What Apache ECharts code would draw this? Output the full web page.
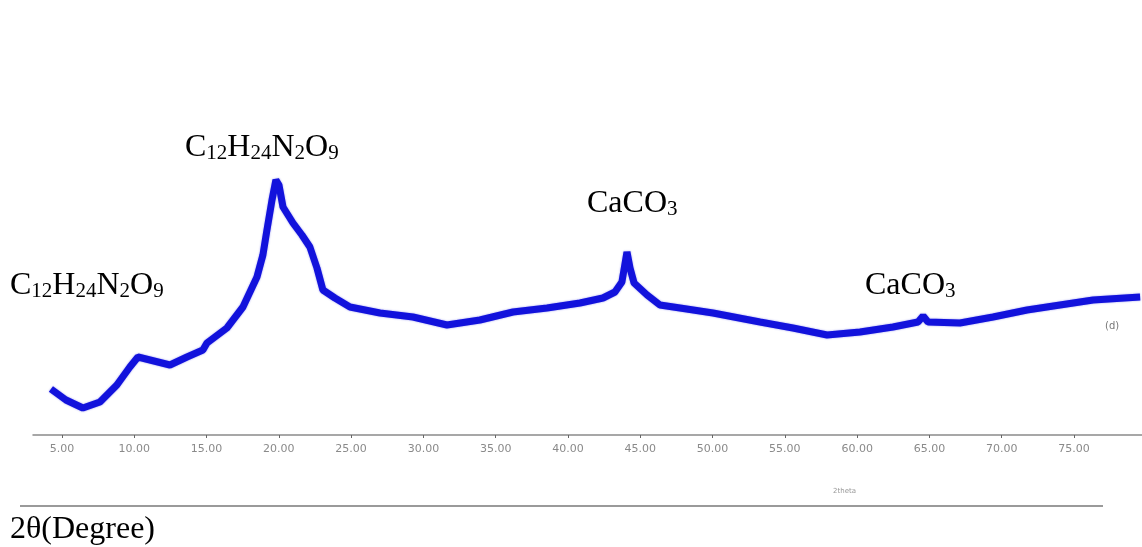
<!DOCTYPE html>
<html>
<head>
<meta charset="utf-8">
<title>XRD (d)</title>
<script src="https://cdn.jsdelivr.net/npm/echarts@6/dist/echarts.min.js"></script>
<style>
  html, body { margin: 0; padding: 0; background: #fff; }
  #main { width: 1142px; height: 547px; }
</style>
</head>
<body>
<div id="main"></div>
<script>
// 数据：2θ 与强度
var twoTheta = [4.24, 5.28, 6.45, 7.63, 8.80, 9.70, 10.26, 11.09, 12.47, 13.65, 14.75, 15.03, 16.41, 17.52, 18.49, 18.90, 19.18, 19.53, 19.80, 20.01, 20.29, 20.98, 21.60, 22.15, 22.64, 23.05, 23.88, 24.92, 27.00, 29.28, 31.63, 33.91, 36.20, 38.55, 40.83, 42.42, 43.25, 43.73, 44.08, 44.29, 44.57, 45.47, 46.36, 47.75, 50.03, 53.28, 55.56, 57.92, 60.20, 62.48, 64.21, 64.56, 64.90, 67.11, 69.40, 71.75, 74.03, 76.32, 79.57];
var intensity = [46, 35, 27, 33, 50, 68, 78, 75, 70, 78, 85, 92, 107, 128, 158, 180, 205, 235, 255, 250, 228, 212, 200, 188, 167, 145, 137, 128, 122, 118, 110, 115, 123, 127, 132, 137, 143, 153, 183, 167, 152, 140, 130, 127, 122, 113, 107, 100, 103, 108, 113, 119, 113, 112, 118, 125, 130, 135, 138];
var tickValues = [5, 10, 15, 20, 25, 30, 35, 40, 45, 50, 55, 60, 65, 70, 75];

var points = [];
for (var i = 0; i < twoTheta.length; i++) {
  points.push([twoTheta[i], intensity[i]]);
}

var serif = '"Liberation Serif", "Times New Roman", serif';
var formulaRich = {
  m: { fontFamily: serif, fontSize: 32, lineHeight: 32, verticalAlign: 'top', fill: '#000', color: '#000' },
  // 下标往下挪一点
  s: { fontFamily: serif, fontSize: 21, lineHeight: 21, verticalAlign: 'top', padding: [11, 0, 0, 0], fill: '#000', color: '#000' }
};

// 峰位标注
function formula(x, y, txt) {
  return {
    type: 'text',
    left: x,
    top: y,
    silent: true,
    style: {
      text: txt,
      rich: formulaRich,
      fill: '#000'
    }
  };
}

var myChart = echarts.init(document.getElementById('main'));

var option = {
  backgroundColor: '#fff',
  animation: false,
  grid: {
    left: 33,
    right: 0,
    top: 0,
    bottom: 112,
    containLabel: false,
    outerBoundsMode: 'none'
  },
  xAxis: {
    type: 'value',
    min: 3,
    max: 79.7,
    splitLine: { show: false },
    axisLine: { show: true, lineStyle: { color: '#8a8a8a', width: 1.5 } },
    axisTick: {
      show: true,
      customValues: tickValues,
      length: 3,
      lineStyle: { color: '#666' }
    },
    axisLabel: {
      show: true,
      customValues: tickValues,
      margin: 9,
      color: '#8a8a8a',
      fontSize: 11,
      fontFamily: '"DejaVu Sans", Verdana, sans-serif',
      formatter: function (v) { return v.toFixed(2); }
    }
  },
  yAxis: {
    type: 'value',
    min: 0,
    max: 435,
    show: false,
    splitLine: { show: false }
  },
  series: [{
    name: '(d)',
    type: 'line',
    data: points,
    showSymbol: false,
    smooth: false,
    lineStyle: {
      color: '#1212dc',
      width: 7,
      shadowColor: 'rgba(20,20,220,0.45)',
      shadowBlur: 2
    }
  }],
  graphic: [
    formula(185, 132, '{m|C}{s|12}{m|H}{s|24}{m|N}{s|2}{m|O}{s|9}'),
    formula(587, 188, '{m|CaCO}{s|3}'),
    formula(10, 270, '{m|C}{s|12}{m|H}{s|24}{m|N}{s|2}{m|O}{s|9}'),
    formula(865, 270, '{m|CaCO}{s|3}'),
    {
      type: 'text',
      left: 1105,
      top: 321,
      silent: true,
      style: { text: '(d)', fill: '#777', fontSize: 10, fontFamily: '"DejaVu Sans", sans-serif' }
    },
    {
      type: 'text',
      left: 833,
      top: 488,
      silent: true,
      style: { text: '2theta', fill: '#999', fontSize: 7, fontFamily: '"DejaVu Sans", sans-serif' }
    },
    {
      type: 'line',
      silent: true,
      shape: { x1: 20, y1: 506, x2: 1103, y2: 506 },
      style: { stroke: '#9a9a9a', lineWidth: 2 }
    },
    {
      type: 'text',
      left: 10,
      top: 514,
      silent: true,
      style: { text: '2θ(Degree)', fill: '#000', fontSize: 32, fontFamily: serif }
    }
  ]
};

myChart.setOption(option);
</script>
</body>
</html>
